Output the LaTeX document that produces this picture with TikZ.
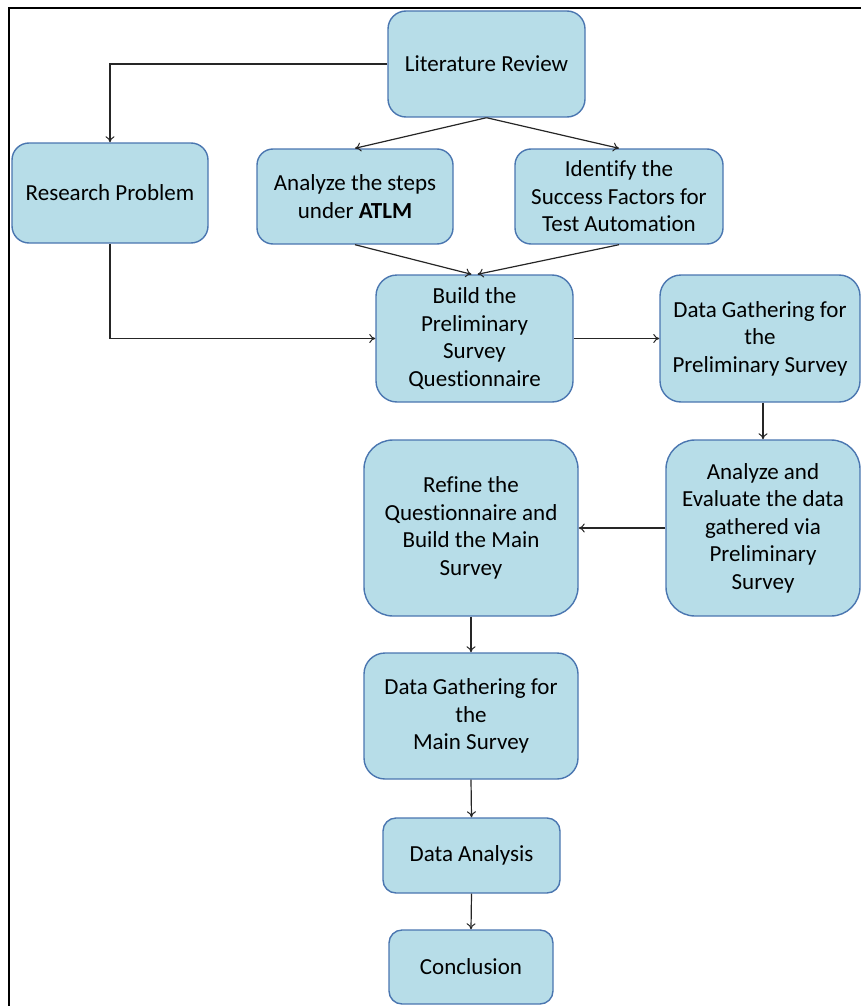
\documentclass[tikz,border=0pt]{standalone}
\usepackage{fontspec}
\setmainfont{Carlito}[Ligatures=NoCommon]
\usetikzlibrary{arrows.meta,calc}

\definecolor{boxfill}{RGB}{183,221,232}
\definecolor{boxline}{RGB}{74,118,176}

\tikzset{
  box/.style={draw=boxline, fill=boxfill, line width=1.4pt, align=center,
              inner sep=0pt, font=\fontsize{23}{27.5}\selectfont},
  flow/.style={draw=black!85, line width=1.2pt,
               -{To[length=6pt,width=9pt,line width=1pt]}},
  frame/.style={draw=black, line width=2.2pt}
}

\begin{document}
\begin{tikzpicture}[x=1pt,y=-1pt]
  \useasboundingbox (0,0) rectangle (861,1006);

  % outer frame (top and left edges)
  \coordinate (ftr) at (861,8);
  \coordinate (ftl) at (9,8);
  \coordinate (fbl) at (9,1006);
  \draw[frame] (ftr) -- (ftl) -- (fbl);

  % process boxes
  \node[box, minimum width=197pt, minimum height=106pt, rounded corners=18pt]
    (lit) at (486.5,64) {Literature Review};
  \node[box, minimum width=196pt, minimum height=100pt, rounded corners=17pt]
    (rp) at (110,193) {Research Problem};
  \node[box, minimum width=196pt, minimum height=95pt, rounded corners=16pt]
    (atlm) at (355,196.5) {Analyze the steps\\under \textbf{ATLM}};
  \node[box, minimum width=208pt, minimum height=95pt, rounded corners=16pt]
    (isf) at (619,196.5) {Identify the\\Success Factors for\\Test Automation};
  \node[box, minimum width=197pt, minimum height=127pt, rounded corners=21pt]
    (build) at (474.5,338.5) {Build the\\Preliminary\\Survey\\Questionnaire};
  \node[box, minimum width=200pt, minimum height=127pt, rounded corners=21pt]
    (dgp) at (760,338.5) {Data Gathering for\\the\\Preliminary Survey};
  \node[box, minimum width=214pt, minimum height=176pt, rounded corners=29pt]
    (refine) at (471,528) {Refine the\\Questionnaire and\\Build the Main\\Survey};
  \node[box, minimum width=194pt, minimum height=176pt, rounded corners=29pt]
    (eval) at (763,528) {Analyze and\\Evaluate the data\\gathered via\\Preliminary\\Survey};
  \node[box, minimum width=214pt, minimum height=126pt, rounded corners=21pt]
    (dgm) at (471,716) {Data Gathering for\\the\\Main Survey};
  \node[box, minimum width=177pt, minimum height=75pt, rounded corners=13pt]
    (da) at (471.5,855.5) {Data Analysis};
  \node[box, minimum width=164pt, minimum height=74pt, rounded corners=13pt]
    (concl) at (471,967) {Conclusion};

  % connectors
  \draw[flow] (lit.west) -| (rp.north);
  \draw[flow] (lit.south) -- (atlm.north);
  \draw[flow] (lit.south) -- (isf.north);
  \draw[flow] (atlm.south) -- ([xshift=-3pt]build.north);
  \draw[flow] (isf.south) -- ([xshift=3pt]build.north);
  \draw[flow] (rp.south) |- (build.west);
  \draw[flow] (build.east) -- (dgp.west);
  \draw[flow] (eval.north |- dgp.south) -- (eval.north);
  \draw[flow] (eval.west) -- (refine.east);
  \draw[flow] (refine.south) -- (dgm.north);
  \draw[flow] (dgm.south) -- (da.north);
  \draw[flow] (da.south) -- (concl.north);
\end{tikzpicture}
\end{document}
